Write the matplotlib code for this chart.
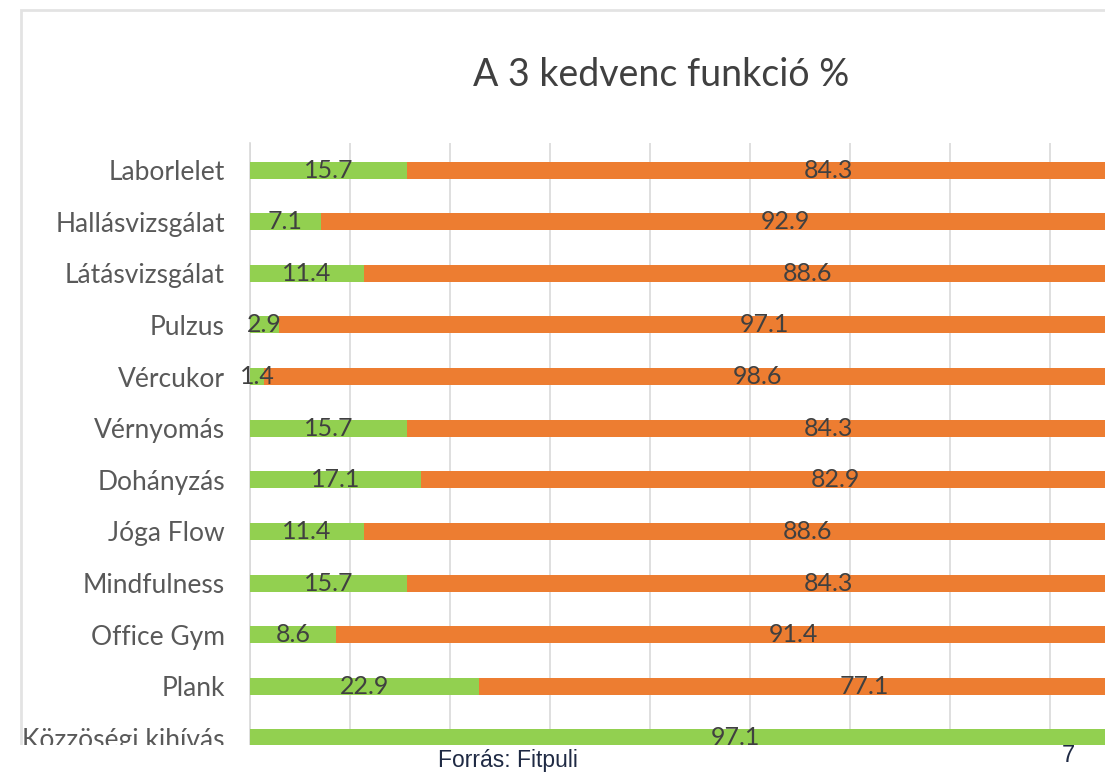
import numpy as np
import matplotlib
matplotlib.use('Agg')
import matplotlib.pyplot as plt
from matplotlib.ticker import MultipleLocator
from matplotlib.patches import Rectangle

categories = ['Laborlelet', 'Hallásvizsgálat', 'Látásvizsgálat', 'Pulzus', 'Vércukor',
              'Vérnyomás', 'Dohányzás', 'Jóga Flow', 'Mindfulness', 'Office Gym',
              'Plank', 'Közzöségi kihívás']
green_vals = [15.7, 7.1, 11.4, 2.9, 1.4, 15.7, 17.1, 11.4, 15.7, 8.6, 22.9, 97.1]
orange_vals = [84.3, 92.9, 88.6, 97.1, 98.6, 84.3, 82.9, 88.6, 84.3, 91.4, 77.1, 2.9]

green = '#92D050'
orange = '#ED7D31'
label_color = '#595959'
value_color = '#404040'

plt.rcParams['font.family'] = ['Lato', 'DejaVu Sans']

fig = plt.figure(figsize=(11.05, 7.72), dpi=100)

# outer chart border (partly cropped, like the source screenshot)
fig.patches.append(Rectangle((21 / 1105, -0.1), 1.2, (772 - 10) / 772 + 0.1,
                             transform=fig.transFigure, fill=False,
                             edgecolor='#E3E3E3', linewidth=2))

# axes run past the right/bottom figure edge -> chart appears cropped
ax = fig.add_axes([250 / 1105, 27 / 772, 1000 / 1105, 602 / 772])

y = np.arange(len(categories))
bar_h = 0.33
ax.barh(y, green_vals, height=bar_h, color=green, zorder=3)
ax.barh(y, orange_vals, left=green_vals, height=bar_h, color=orange, zorder=3)

for i in range(len(categories)):
    g = green_vals[i]
    o = orange_vals[i]
    for xc, v in [(g / 2, g), (g + o / 2, o)]:
        if xc > 85:  # label lies in the cropped-away part of the chart
            continue
        ax.text(xc, i, f'{v:.1f}', ha='center', va='center', fontsize=18,
                color=value_color, zorder=4)

ax.set_xlim(0, 100)
ax.set_ylim(11.136, -0.524)
ax.set_yticks(y)
ax.set_yticklabels(categories, fontsize=19, color=label_color)
ax.tick_params(axis='y', length=0, pad=18)
ax.tick_params(axis='x', length=0, labelbottom=False)

ax.xaxis.set_major_locator(MultipleLocator(10))
ax.grid(True, axis='x', color='#D9D9D9', linewidth=1.2, zorder=0)
ax.set_axisbelow(True)

for s in ['top', 'right', 'bottom']:
    ax.spines[s].set_visible(False)
ax.spines['left'].set_color('#D9D9D9')
ax.spines['left'].set_linewidth(1.2)

fig.text(661 / 1105, 1 - 75 / 772, 'A 3 kedvenc funkció %', ha='center', va='center',
         fontsize=27, color=value_color)

# white footer strip with source and page number
fig.patches.append(Rectangle((0, 0), 1, 27 / 772, transform=fig.transFigure,
                             facecolor='white', edgecolor='none', zorder=5))
fig.text(508 / 1105, 1 - 761 / 772, 'Forrás: Fitpuli', ha='center', va='center',
         fontsize=16.5, color='#1F2A44', family='Liberation Sans', zorder=6)
fig.text(1068 / 1105, 5 / 772, '7', ha='center', va='bottom',
         fontsize=17, color='#1F2A44', family='Liberation Sans', zorder=6)

plt.savefig('out.png', dpi=100)
